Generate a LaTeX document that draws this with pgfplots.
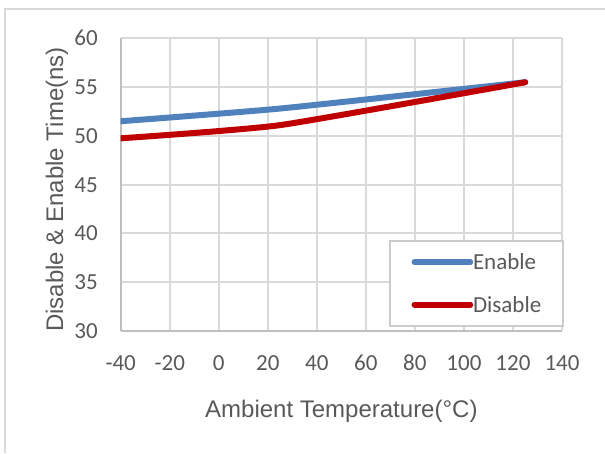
\documentclass[border=0pt]{standalone}
\usepackage{fontspec}
\setmainfont{Liberation Sans}
\newfontfamily\carlito{Carlito}
\usepackage{pgfplots}
\pgfplotsset{compat=1.18}

\definecolor{enableblue}{HTML}{4F81BD}
\definecolor{disablered}{HTML}{C00000}
\definecolor{gridgray}{HTML}{D9D9D9}
\definecolor{axisgray}{HTML}{BFBFBF}
\definecolor{legendgray}{HTML}{CCCCCC}
\definecolor{textgray}{HTML}{595959}

\begin{document}
\begin{tikzpicture}
\useasboundingbox (0pt,0pt) rectangle (605pt,453pt);
\begin{axis}[
  at={(120.7pt,122pt)}, anchor=south west,
  scale only axis, width=441.3pt, height=292.7pt,
  xmin=-40, xmax=140, ymin=30, ymax=60,
  xtick={-40,-20,...,140}, ytick={30,35,...,60},
  xticklabels={-40,-20,0,20,40,60,80,100,120,140},
  yticklabels={30,35,40,45,50,55,60},
  axis lines=left,
  axis line style={-, draw=axisgray, line width=2pt},
  major tick length=0pt,
  grid=major, grid style={draw=gridgray, line width=2pt},
  tick label style={font=\carlito\fontsize{23}{23}\selectfont, text=textgray, inner sep=0pt},
  x tick label style={anchor=base, yshift=-39pt},
  y tick label style={anchor=base east, xshift=-22.7pt, yshift=-7.5pt},
  every axis x label/.style={at={(axis description cs:0.5,-0.2972)}, anchor=base,
    font=\fontsize{24}{24}\selectfont, text=textgray, inner sep=0pt},
  every axis y label/.style={at={(axis description cs:-0.1307,0.4834)}, anchor=base, rotate=90,
    font=\fontsize{24}{24}\selectfont, text=textgray, inner sep=0pt},
  xlabel={Ambient Temperature(°C)},
  ylabel={Disable \& Enable Time(ns)},
  legend style={at={(axis description cs:0.608,0.0147)}, anchor=south west,
    draw=legendgray, line width=2pt, fill=white,
    inner xsep=21.5pt, inner ysep=0pt, row sep=0pt,
    font=\carlito\fontsize{23}{23}\selectfont, text=textgray,
    nodes={inner sep=0pt, text height=15pt, text depth=0pt, minimum height=42.3pt},
    /tikz/every even column/.append style={column sep=7pt},
    cells={anchor=west}},
  legend image code/.code={
    \draw[#1] (0pt,0pt) -- (50pt,0pt);
    \path (-5.5pt,0pt) -- (50pt,0pt);},
]
\addplot[enableblue, line width=6pt, line cap=round, smooth, tension=0.3]
  coordinates {(-40,51.5)(25,52.8)(125,55.5)};
\addlegendentry{Enable}
\addplot[disablered, line width=6pt, line cap=round, smooth, tension=0.3]
  coordinates {(-40,49.75)(25,51.1)(125,55.5)};
\addlegendentry{Disable}
\end{axis}
\draw[gridgray, line width=2pt] (5pt,0pt) -- (5pt,444pt) -- (605pt,444pt);
\end{tikzpicture}
\end{document}
